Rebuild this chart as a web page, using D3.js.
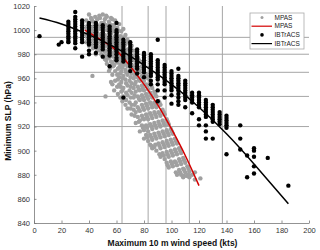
<!DOCTYPE html>
<html>
<head>
<meta charset="utf-8">
<script src="https://cdn.jsdelivr.net/npm/d3@7"></script>
<style>
  body { margin: 0; background: #fff; }
  text { font-family: "Liberation Sans", Arial, sans-serif; }
</style>
</head>
<body>
<div id="chart"></div>
<script>
// axis ticks
var xTicks = [0, 20, 40, 60, 80, 100, 120, 140, 160, 180, 200];
var yTicks = [840, 860, 880, 900, 920, 940, 960, 980, 1000, 1020];

// category thresholds (grid lines)
var windLines = [64, 83, 96, 113, 137];
var slpLines = [994, 980, 965, 945, 920];

// MPAS scatter: [wind, [slp values]]
var mpasPoints = [
  [38, [1008, 1002, 996, 990]],
  [39, [1004, 998, 993]],
  [40, [1013, 1005, 999, 994, 987]],
  [41.5, [1010, 1001, 996, 991]],
  [42, [1009, 1000, 988]],
  [42.5, [962]],
  [43, [1007, 1003, 997, 992, 985]],
  [44.5, [1011, 999, 994, 988]],
  [45, [1006, 996, 990, 980]],
  [46, [1009, 1004, 998, 993, 989, 983]],
  [47.5, [1012, 1001, 996, 990, 986]],
  [48, [1010, 1003, 993, 983]],
  [49, [1006, 1002, 995, 991, 987, 980]],
  [50, [1013, 998, 993, 984]],
  [50.8, [1006, 995, 986, 978]],
  [51.5, [1009, 1003, 996, 989, 982, 976]],
  [52, [945]],
  [52.5, [1012, 1004, 991, 983, 975]],
  [53, [1011, 1000, 993, 987, 979, 972]],
  [54.5, [1007, 1002, 990, 984, 977, 966]],
  [55.2, [1005, 995, 986, 979, 968]],
  [56, [1010, 997, 988, 981, 974, 957]],
  [57, [1009, 1001, 990, 981, 973, 963, 955]],
  [57.5, [1004, 999, 992, 985, 978, 970]],
  [58.3, [1003, 994, 986, 979, 971, 950]],
  [59, [1008, 995, 989, 983, 975, 966, 958]],
  [60.5, [1002, 998, 986, 980, 973, 963, 953]],
  [61, [1000, 990, 982, 976, 968, 959, 947]],
  [62, [1005, 992, 984, 977, 969, 961, 955]],
  [62.8, [995, 987, 979, 971, 964, 953, 944]],
  [63.5, [999, 989, 981, 974, 966, 957, 949]],
  [64.3, [992, 983, 976, 969, 960, 950, 941]],
  [65, [1001, 994, 985, 978, 971, 962, 952, 945]],
  [66.5, [996, 988, 982, 975, 967, 959, 938]],
  [67, [990, 980, 972, 965, 956, 948, 942]],
  [68, [992, 984, 977, 970, 963, 954, 946, 935]],
  [69.5, [990, 980, 973, 966, 958, 950, 940]],
  [70.3, [985, 976, 968, 961, 953, 944, 935]],
  [71, [987, 978, 971, 964, 956, 948, 938, 930]],
  [72.5, [983, 975, 968, 960, 952, 944, 934]],
  [73.2, [979, 970, 962, 955, 946, 938, 929]],
  [74, [980, 972, 964, 957, 949, 940, 932, 923]],
  [75.5, [977, 969, 961, 953, 945, 936, 928]],
  [76.3, [975, 967, 959, 951, 943, 934, 924]],
  [77, [974, 965, 958, 950, 942, 933, 925, 916]],
  [78.5, [970, 962, 954, 946, 938, 929, 921]],
  [79.2, [968, 960, 952, 944, 936, 927, 919]],
  [80, [967, 958, 950, 942, 934, 926, 917, 910]],
  [81.5, [963, 955, 947, 939, 930, 921, 913]],
  [82.2, [962, 953, 945, 937, 928, 919, 911]],
  [83, [960, 951, 943, 935, 926, 916, 908]],
  [84.5, [956, 948, 940, 931, 922, 913, 905]],
  [85.3, [954, 946, 938, 929, 920, 911, 904]],
  [86, [952, 944, 936, 927, 918, 909, 902]],
  [87.5, [949, 940, 932, 923, 914, 903]],
  [88.2, [947, 938, 930, 921, 912, 905]],
  [89, [945, 936, 928, 919, 910, 900]],
  [90.5, [941, 932, 924, 915, 906]],
  [91.2, [940, 931, 922, 913, 904, 897]],
  [92, [938, 929, 920, 911, 902, 895]],
  [93.5, [934, 925, 916, 907, 898]],
  [94.3, [932, 923, 914, 905, 896]],
  [95, [930, 921, 912, 903, 893]],
  [96.5, [926, 917, 908, 899, 890]],
  [97.2, [924, 915, 906, 897, 888]],
  [98, [922, 913, 904, 895, 886]],
  [99.5, [918, 909, 900, 891]],
  [100.3, [916, 907, 898, 889]],
  [101, [914, 905, 896, 887]],
  [102.5, [910, 901, 891]],
  [103.2, [908, 899, 890, 882]],
  [104, [906, 897, 888, 880]],
  [105.5, [902, 893, 884]],
  [106.3, [900, 891, 882]],
  [107, [898, 889, 880]],
  [108.5, [894, 885, 878]],
  [109.2, [892, 884, 879]],
  [110, [890, 882]],
  [111.5, [887, 879]],
  [112.3, [885, 880]],
  [113, [883, 878]],
  [115, [880]],
  [117, [882, 876]],
  [121, [877]]
];

// IBTrACS scatter: [wind, [slp values]]
var ibtracsPoints = [
  [4, [995]],
  [18, [988]],
  [20, [990]],
  [25, [1007, 1005, 1003, 1001, 999, 997, 995, 993, 991, 990]],
  [30, [1015, 1011, 1009, 1007, 1005, 1003, 1001, 999, 997, 995, 993, 991, 989, 985]],
  [35, [1008, 1006, 1004, 1002, 1000, 998, 996, 994, 992, 990, 978]],
  [40, [1006, 1004, 1002, 1000, 998, 996, 994, 992, 990, 988, 983, 980]],
  [45, [1006, 1004, 1002, 1000, 998, 996, 994, 992, 990, 988, 986, 981]],
  [50, [1004, 1002, 1000, 998, 996, 994, 992, 990, 988, 986, 984, 978]],
  [55, [1003, 1001, 999, 997, 995, 993, 991, 989, 987, 985, 983, 981, 979, 970]],
  [60, [1006, 1000, 998, 996, 994, 992, 990, 988, 986, 984, 982, 980, 977, 975]],
  [65, [992, 990, 988, 986, 984, 982, 980, 978, 976, 974, 944]],
  [70, [990, 988, 986, 984, 982, 980, 978, 976, 974, 972, 970, 966]],
  [75, [984, 982, 980, 978, 976, 974, 972, 970, 968, 964]],
  [80, [981, 979, 977, 975, 973, 971, 969, 967, 965, 961]],
  [85, [980, 978, 976, 974, 972, 970, 968, 966, 964, 962, 958, 955]],
  [90, [992, 975, 973, 971, 969, 967, 965, 963, 961, 959, 955, 950, 941]],
  [95, [971, 969, 967, 965, 963, 961, 959, 957, 955, 950, 944]],
  [100, [966, 964, 962, 960, 958, 956, 954, 952, 950, 946, 939]],
  [105, [968, 962, 960, 958, 956, 954, 952, 950, 947, 944, 941, 938]],
  [110, [958, 956, 954, 952, 950, 948, 946, 944, 942, 936]],
  [115, [948, 946, 944, 942, 940, 931]],
  [120, [948, 946, 944, 942, 940, 938, 936, 926, 921]],
  [125, [942, 940, 938, 936, 934, 932, 930, 928, 921, 916, 910]],
  [130, [938, 936, 934, 932, 930, 928, 926, 924, 910]],
  [135, [932, 930, 928, 926, 924, 922]],
  [140, [929, 927, 925, 923, 921, 919, 897]],
  [150, [921, 910, 901]],
  [155, [896, 878]],
  [160, [902, 900, 895, 887, 881]],
  [170, [894]],
  [185, [871]]
];

// fitted curves: [wind, slp]
var mpasFit = [[37, 1000], [50, 991], [60, 983], [70, 970], [80, 955], [90, 938], [100, 918], [110, 896], [120, 871]];
var ibtracsFit = [[4, 1010], [20, 1005], [40, 996], [60, 985], [80, 971], [100, 955], [120, 936], [140, 914], [160, 889], [185, 856]];

// svg container
var width = 320;
var height = 250;
var margin = { top: 6, right: 11, bottom: 27, left: 34 };
var chartWidth = width - margin.left - margin.right;
var chartHeight = height - margin.top - margin.bottom;

var svg = d3.select("#chart").append("svg")
    .attr("width", width)
    .attr("height", height);

var chartGroup = svg.append("g")
    .attr("transform", `translate(${margin.left}, ${margin.top})`);

// scales
var xScale = d3.scaleLinear().domain([0, 200]).range([0, chartWidth]);
var yScale = d3.scaleLinear().domain([840, 1020]).range([chartHeight, 0]);

// grid lines
chartGroup.selectAll(".hline")
    .data(slpLines)
    .enter()
    .append("line")
    .attr("x1", 0)
    .attr("x2", chartWidth)
    .attr("y1", d => yScale(d))
    .attr("y2", d => yScale(d))
    .attr("stroke", "#a6a6a6")
    .attr("stroke-width", 1);

chartGroup.selectAll(".vline")
    .data(windLines)
    .enter()
    .append("line")
    .attr("x1", d => xScale(d))
    .attr("x2", d => xScale(d))
    .attr("y1", 0)
    .attr("y2", chartHeight)
    .attr("stroke", "#a6a6a6")
    .attr("stroke-width", 1);

// axes
var xAxis = d3.axisBottom(xScale).tickValues(xTicks).tickFormat(d3.format("d"))
    .tickSizeInner(-2.5).tickSizeOuter(0).tickPadding(5);
var yAxis = d3.axisLeft(yScale).tickValues(yTicks).tickFormat(d3.format("d"))
    .tickSizeInner(-2.5).tickSizeOuter(0).tickPadding(4);

var xg = chartGroup.append("g")
    .attr("transform", `translate(0, ${chartHeight})`)
    .call(xAxis);
var yg = chartGroup.append("g")
    .call(yAxis);

[xg, yg].forEach(function (g) {
    g.select(".domain").attr("stroke", "#777").attr("stroke-width", 0.8);
    g.selectAll(".tick line").attr("stroke", "#777").attr("stroke-width", 0.8);
    g.selectAll(".tick text")
        .attr("fill", "#333")
        .style("font-size", "7.5px")
        .style("font-family", "'Liberation Sans', Arial, sans-serif");
});

// flatten scatter data
function flatten(cols) {
    var out = [];
    cols.forEach(function (c) {
        c[1].forEach(function (p) { out.push([c[0], p]); });
    });
    return out;
}

var line = d3.line()
    .x(d => xScale(d[0]))
    .y(d => yScale(d[1]))
    .curve(d3.curveNatural);

// MPAS points
chartGroup.selectAll(".mpas")
    .data(flatten(mpasPoints))
    .enter()
    .append("circle")
    .attr("cx", d => xScale(d[0]))
    .attr("cy", d => yScale(d[1]))
    .attr("r", 2.2)
    .attr("fill", "#a0a0a0");

// MPAS fit
chartGroup.append("path")
    .datum(mpasFit)
    .attr("d", line)
    .attr("fill", "none")
    .attr("stroke", "#d40000")
    .attr("stroke-width", 1.5);

// IBTrACS points
chartGroup.selectAll(".ib")
    .data(flatten(ibtracsPoints))
    .enter()
    .append("circle")
    .attr("cx", d => xScale(d[0]))
    .attr("cy", d => yScale(d[1]))
    .attr("r", 2.2)
    .attr("fill", "#000");

// IBTrACS fit
chartGroup.append("path")
    .datum(ibtracsFit)
    .attr("d", line)
    .attr("fill", "none")
    .attr("stroke", "#000")
    .attr("stroke-width", 1.5);

// axis labels
svg.append("text")
    .attr("x", margin.left + chartWidth / 2 + 1)
    .attr("y", 246)
    .attr("text-anchor", "middle")
    .style("font-size", "8.5px")
    .style("font-weight", "bold")
    .attr("fill", "#111")
    .text("Maximum 10 m wind speed (kts)");

svg.append("text")
    .attr("transform", "translate(11, 121) rotate(-90)")
    .attr("text-anchor", "middle")
    .style("font-size", "8.5px")
    .style("font-weight", "bold")
    .attr("fill", "#111")
    .text("Minimum SLP (hPa)");

// legend
var legend = svg.append("g").attr("transform", "translate(250, 13)");
legend.append("rect")
    .attr("width", 54)
    .attr("height", 36)
    .attr("fill", "#fff")
    .attr("stroke", "#aaa")
    .attr("stroke-width", 0.8);

var legendItems = [
  { label: "MPAS", type: "dot", color: "#a0a0a0", r: 1.5 },
  { label: "MPAS", type: "line", color: "#d40000" },
  { label: "IBTrACS", type: "dot", color: "#000", r: 1.8 },
  { label: "IBTrACS", type: "line", color: "#000" }
];

legendItems.forEach(function (d, i) {
    var y = 4.5 + i * 8.7;
    if (d.type === "dot") {
        legend.append("circle").attr("cx", 12).attr("cy", y).attr("r", d.r).attr("fill", d.color);
    } else {
        legend.append("line").attr("x1", 1.5).attr("x2", 22).attr("y1", y).attr("y2", y)
            .attr("stroke", d.color).attr("stroke-width", 1.2);
    }
    legend.append("text")
        .attr("x", 24.5)
        .attr("y", y)
        .attr("dy", "0.35em")
        .style("font-size", "6.5px")
        .attr("fill", "#222")
        .text(d.label);
});
</script>
</body>
</html>
